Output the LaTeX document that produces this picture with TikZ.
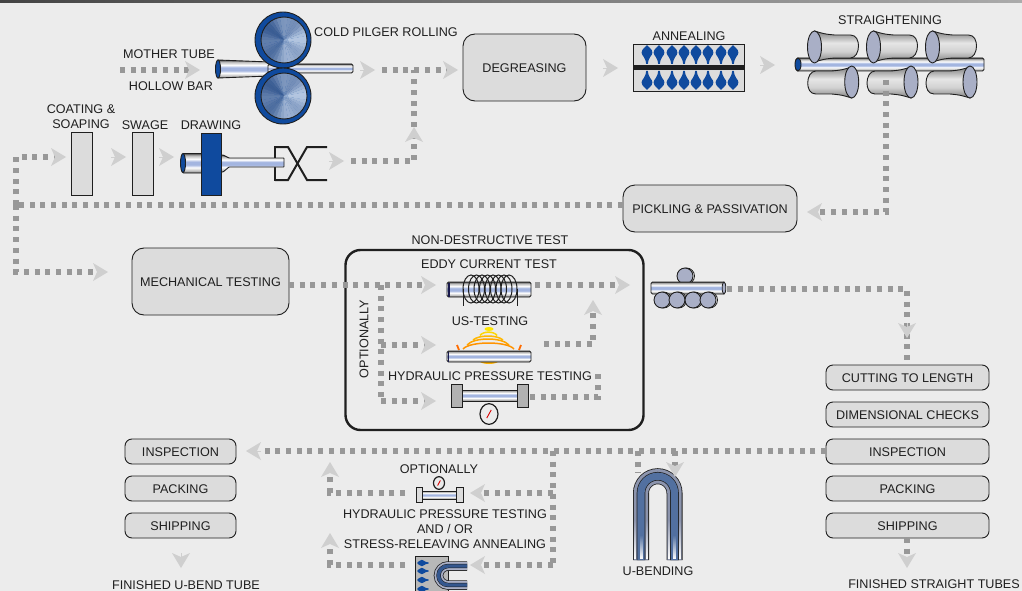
\documentclass[tikz,border=0pt]{standalone}
\usepackage{fontspec}
\setmainfont{Liberation Sans}
\usetikzlibrary{arrows.meta,fadings}
\definecolor{bgc}{HTML}{ECECEC}
\definecolor{boxc}{HTML}{DCDCDC}
\definecolor{ink}{HTML}{1F1F1F}
\definecolor{dotc}{HTML}{989898}
\definecolor{chevc}{HTML}{CFCFCF}
\definecolor{steelblue}{HTML}{0F4A9E}
\definecolor{discdark}{HTML}{34578F}
\definecolor{disclight}{HTML}{BFD0E8}
\definecolor{rollend}{HTML}{A9AFC6}
\definecolor{stripa}{HTML}{444444}
\definecolor{stripb}{HTML}{ABABAB}
\definecolor{tubeblue}{HTML}{A3B5E0}
\definecolor{bendgrey}{HTML}{8C94AD}
\pgfdeclareverticalshading{metal}{100bp}{
 color(0bp)=(black!70); color(25bp)=(black!70); color(30bp)=(black!28);
 color(39bp)=(white); color(46bp)=(tubeblue);
 color(54bp)=(tubeblue); color(61bp)=(white); color(70bp)=(black!28); color(75bp)=(black!70); color(100bp)=(black!70)}
\pgfdeclareverticalshading{rollmetal}{100bp}{
 color(0bp)=(black!50); color(25bp)=(black!50); color(42bp)=(black!18); color(56bp)=(black!10); color(75bp)=(black!50); color(100bp)=(black!50)}
\tikzset{
 lbl/.style={font=\fontsize{12.6}{14.7}\selectfont,text=ink,inner sep=0pt,align=center},
 procbox/.style={lbl,draw=ink,fill=boxc,line width=.9pt,rounded corners=12pt,text height=10pt,text depth=0pt},
 tagbox/.style={lbl,draw=ink,fill=boxc,line width=.9pt,rounded corners=7pt,minimum width=163pt,minimum height=25pt,text height=10pt,text depth=0pt},
 slab/.style={draw=ink,fill=boxc,line width=.9pt},
 dots/.style={draw=dotc,line width=5.2pt,dash pattern=on 5pt off 5.7pt},
 flow/.style={dots,-{Stealth[length=15pt,width=18pt,inset=4pt,color=chevc,line width=0pt]}},
 chev/.style={draw=chevc,line width=.1pt,-{Stealth[length=15pt,width=18pt,inset=4pt,color=chevc,line width=0pt]}},
 tube/.style={draw=ink,line width=.9pt,shading=metal,rounded corners=1.5pt},
 pics/tear/.style={code={\fill[steelblue] (0,-8) .. controls (1,-6.2) and (5.4,-4.2) .. (5.4,-.4) .. controls (5.4,2.8) and (1.4,3.8) .. (.9,11) -- (-.9,11) .. controls (-1.4,3.8) and (-5.4,2.8) .. (-5.4,-.4) .. controls (-5.4,-4.2) and (-1,-6.2) .. (0,-8) -- cycle;}},
 pics/roller/.style={code={
   \fill[steelblue,draw=ink,line width=.9pt] (0,0) circle[radius=28];
   \foreach \a in {0,10,...,350}{
     \pgfmathsetmacro{\p}{max(0,min(100,48+32*cos(\a+20)+14*cos(4*\a)))}
     \fill[disclight!\p!discdark] (1,0) -- ++(\a:23pt) arc[start angle=\a,delta angle=10.6,radius=23pt] -- cycle;}
   \draw[ink,line width=.9pt] (1,0) circle[radius=23];}},
 pics/gauge/.style={code={
   \draw[ink,fill=black!8,line width=1.2pt] (0,0) ellipse[x radius=#1,y radius=#1*1.15];
   \draw[red!85!black,line width=.9pt] (-.25*#1,.45*#1) -- (.25*#1,-.45*#1);}},
 pics/upperroll/.style={code={
   \path[draw=ink,line width=.9pt,shading=rollmetal] (0,-16) .. controls (10,-13) .. (20,-12) -- (36,-12) .. controls (42,-12) and (44,-6) .. (44,-1) .. controls (44,5) and (41,11) .. (36,11) -- (20,11) .. controls (10,12) .. (0,15) -- cycle;
   \draw[ink,fill=rollend,line width=.9pt] (0,0) ellipse[x radius=7,y radius=16];}},
 pics/stackroll/.style={code={
   \draw[ink,fill=white,line width=.8pt] (1.5,0) circle[radius=8];
   \draw[ink,fill=rollend,line width=.9pt] (0,0) circle[radius=8];}}
}
\begin{document}
\begin{tikzpicture}[x=1pt,y=-1pt]
\useasboundingbox (0,0) rectangle (1022,591);
\clip (0,0) rectangle (1022,591);
\fill[bgc] (0,0) rectangle (1022,591);
\shade[left color=stripa,right color=stripb] (0,0) rectangle (1022,2.5);

% process boxes
\node[procbox,minimum width=123pt,minimum height=67pt] (degreasing) at (524.5,67.5) {DEGREASING};
\node[procbox,minimum width=174pt,minimum height=47pt] (pickling) at (710,208.5) {PICKLING \& PASSIVATION};
\node[procbox,minimum width=157pt,minimum height=67pt] (mechanical) at (210.5,281.5) {MECHANICAL TESTING};
\node[draw=ink,line width=2.4pt,rounded corners=15pt,minimum width=298pt,minimum height=180pt,inner sep=0pt] (ndt) at (494.5,340) {};
\node[slab,minimum width=21pt,minimum height=63pt,inner sep=0pt] (coating) at (81.5,163.5) {};
\node[slab,minimum width=21pt,minimum height=63pt,inner sep=0pt] (swage) at (142.5,163.5) {};
\node[tagbox] (cutting) at (907.5,377.5) {CUTTING TO LENGTH};
\node[tagbox] (dimensional) at (907.5,414.5) {DIMENSIONAL CHECKS};
\node[tagbox] (inspectA) at (907.5,451.5) {INSPECTION};
\node[tagbox] (packingA) at (907.5,488.5) {PACKING};
\node[tagbox] (shippingA) at (907.5,525.5) {SHIPPING};
\node[tagbox,minimum width=111pt] (inspectB) at (180.5,451.5) {INSPECTION};
\node[tagbox,minimum width=111pt] (packingB) at (180.5,488.5) {PACKING};
\node[tagbox,minimum width=111pt] (shippingB) at (180.5,525.5) {SHIPPING};

% cold pilger rolling
\path[tube,rounded corners=0pt] (218,60) -- (270,62) -- (270,76) -- (218,78) -- cycle;
\path[tube] (268,64) -- (353,64) -- (353,73) -- (268,73) -- cycle;
\draw[ink,fill=steelblue,line width=.9pt] (218,69) ellipse[x radius=2.5,y radius=9];
\pic at (283,40) {roller};
\pic at (283,96) {roller};

% annealing furnace
\draw[ink,fill=boxc,line width=.9pt] (633.5,44.5) rectangle (744,91);
\fill[ink] (633.5,65) rectangle (744,70.5);
\foreach \x in {647,659,672,684,696,708,721,733}{
  \pic at (\x,53) {tear};
  \pic[yscale=-1] at (\x,82) {tear};
}

% straightening
\path[tube] (796,58) -- (984,58) -- (984,71) -- (796,71) -- cycle;
\draw[ink,fill=steelblue,line width=.9pt] (798,64.5) ellipse[x radius=3,y radius=6.5];
\foreach \x in {814.5,873.5,932.5}{\pic at (\x,47) {upperroll};}
\foreach \x in {851.7,911,970}{\pic[rotate=180] at (\x,82) {upperroll};}

% drawing
\draw[ink,line width=2pt] (275,147) -- (288,147) -- (307,180) -- (327,180);
\draw[ink,line width=2pt] (327,147) -- (307,147) -- (288,180) -- (275,180);
\draw[ink,line width=2pt] (275,146) -- (275,181);
\path[tube] (182,153.5) -- (203,153.5) -- (203,173) -- (182,173) -- cycle;
\draw[ink,fill=steelblue,line width=.9pt] (183,163) ellipse[x radius=2.5,y radius=9.5];
\path[tube,rounded corners=.5pt] (219,155) -- (223,155) -- (229,158) -- (284,158) -- (284,167) -- (229,167) -- (223,172) -- (219,172) -- cycle;
\draw[ink,fill=steelblue,line width=.9pt] (201,133) rectangle (221,195);

% eddy current
\path[tube] (447,282) -- (531,282) -- (531,297) -- (447,297) -- cycle;
\fill[ink!80!blue] (448,282.5) rectangle (449.5,296.5);
\foreach \x in {471,476.5,482,487.5,493,498.5,504,509}{
  \draw[ink,line width=1pt] (\x,289) ellipse[x radius=8,y radius=14];}
\draw[ink,line width=1pt] (463,289) -- (463,306);
\draw[ink,line width=1pt] (517,289) -- (517,306);

% us testing
\fill[yellow!90!orange] (489,329) ellipse[x radius=4.5,y radius=2];
\draw[line width=1.5pt,color=yellow!75!orange] (480,335.5) .. controls (483,331) and (494,331) .. (497,335.5);
\draw[line width=1.5pt,color=orange!55!yellow] (473,340) .. controls (479,334.7) and (497,334.7) .. (503,340);
\draw[line width=1.5pt,color=orange!70!yellow] (467,345) .. controls (474,337) and (502,337) .. (509,345);
\draw[line width=1.5pt,color=orange!85!yellow] (463,349) .. controls (470,341) and (507,341) .. (514,349);
\draw[line width=1.8pt,color=orange!85!red] (457,345) -- (459,350);
\draw[line width=1.8pt,color=orange!85!red] (521,345) -- (519,350);
\fill[orange!60!yellow] (479,361) .. controls (482,365) and (496,365) .. (499,361) -- cycle;
\path[tube] (447,351) -- (531,351) -- (531,362) -- (447,362) -- cycle;
\fill[ink!80!blue] (447.5,351.5) rectangle (449,361.5);

% hydraulic test
\path[tube,rounded corners=0pt] (461,390) rectangle (518,401);
\draw[ink,fill=black!30,line width=.9pt] (451,384) rectangle (462,407);
\draw[ink,fill=black!30,line width=.9pt] (517,384) rectangle (528,407);
\pic at (489,414) {gauge=9};

% stacked rolls
\pic at (685,276) {stackroll};
\path[tube] (651,282) -- (725,282) -- (725,294) -- (651,294) -- cycle;
\draw[ink,fill=rollend,line width=.8pt] (724,288) ellipse[x radius=1.8,y radius=6];
\foreach \x in {662,677,693,708}{\pic at (\x,300) {stackroll};}

% u-bend
\foreach \w/\c in {16/ink,14.4/bendgrey,8.6/ink,7.2/discdark!85!white}{
  \draw[line width=\w pt,color=\c] (641,560) -- (641,493) arc[start angle=180,end angle=0,radius=16.75pt] -- (674.5,560);}
\foreach \x in {641,674.5}{
  \fill[white,path fading=north] (\x-1.5,535) rectangle (\x+1.5,559);
  \fill[white,path fading=north] (\x-6.9,520) rectangle (\x-4.6,559);
  \fill[white,path fading=north] (\x+4.6,520) rectangle (\x+6.9,559);}

% small optional test
\path[tube,rounded corners=0pt] (421,491) rectangle (457,499);
\draw[ink,fill=boxc,line width=.9pt] (416,487) rectangle (422,502);
\draw[ink,fill=boxc,line width=.9pt] (456,487) rectangle (463,502);
\pic at (439,483) {gauge=5.5};

% small furnace
\draw[ink,fill=black!28,line width=.9pt] (415,556) rectangle (448,596);
\foreach \y in {563,571,580,589}{\pic[rotate=90,scale=.6] at (422,\y) {tear};}
\foreach \w/\c in {9.5/ink,8/rollend,4.4/ink,3.4/discdark}{
  \draw[line width=\w pt,color=\c] (467,566) -- (448,566) arc[start angle=90,end angle=270,radius=9.5pt] -- (467,585);}

% flow anchors
\coordinate (motherStart) at (120,70);
\coordinate (motherEnd) at (200,70);
\coordinate (pilgerOutA) at (360,70);
\coordinate (pilgerOutB) at (375,70);
\coordinate (joinStart) at (382,70);
\coordinate (joinEnd) at (458,70);
\coordinate (joinTurn) at (414,70);
\coordinate (drawOutA) at (329,161);
\coordinate (drawOutB) at (344,161);
\coordinate (drawDots) at (351,161);
\coordinate (drawTurn) at (414,161);
\coordinate (drawUp) at (414,127);
\coordinate (degOutA) at (603,68);
\coordinate (degOutB) at (618,68);
\coordinate (annOutA) at (760,65);
\coordinate (annOutB) at (775,65);
\coordinate (straightOut) at (886,80);
\coordinate (straightTurn) at (886,212);
\coordinate (pickIn) at (807,212);
\coordinate (pickOut) at (623,205);
\coordinate (leftTurn) at (16,205);
\coordinate (leftTop) at (16,157);
\coordinate (coatIn) at (66,157);
\coordinate (leftBottom) at (16,272);
\coordinate (mechIn) at (108,272);
\coordinate (coatOut) at (111,157);
\coordinate (swageIn) at (126,157);
\coordinate (swageOut) at (159,157);
\coordinate (swageEnd) at (174,157);
\coordinate (mechOut) at (289,285);
\coordinate (eddyIn) at (436,285);
\coordinate (optTop) at (381,285);
\coordinate (optMid) at (381,345);
\coordinate (optBot) at (381,401);
\coordinate (usIn) at (436,345);
\coordinate (hydIn) at (436,401);
\coordinate (eddyOut) at (535,285);
\coordinate (ndtOut) at (630,285);
\coordinate (usOut) at (544,344);
\coordinate (usTurn) at (593,344);
\coordinate (usUp) at (593,300);
\coordinate (hydOut) at (530,397);
\coordinate (hydTurn) at (598,397);
\coordinate (hydUp) at (598,372);
\coordinate (rollsOut) at (727,289);
\coordinate (rollsTurn) at (907,289);
\coordinate (rollsArrow) at (907,338);
\coordinate (rollsDown) at (907,340);
\coordinate (cutIn) at (907,365);
\coordinate (inspOut) at (826,451);
\coordinate (inspStop) at (262,451);
\coordinate (inspLeft) at (246,451);
\coordinate (branchTop) at (553,451);
\coordinate (branchA) at (553,493);
\coordinate (branchB) at (553,565);
\coordinate (optIn) at (470,493);
\coordinate (furnIn) at (470,565);
\coordinate (optOut) at (405,493);
\coordinate (optTurn) at (330,493);
\coordinate (optUp) at (330,462);
\coordinate (furnOut) at (405,565);
\coordinate (furnTurn) at (330,565);
\coordinate (furnUp) at (330,533);
\coordinate (uA) at (638,451);
\coordinate (uAend) at (638,473);
\coordinate (uB) at (675,451);
\coordinate (uBend) at (675,477);
\coordinate (finAa) at (907,538);
\coordinate (finAb) at (907,568);
\coordinate (finBa) at (181,553);
\coordinate (finBb) at (181,568);

% flows
\draw[flow] (motherStart) -- (motherEnd);
\draw[chev] (pilgerOutA) -- (pilgerOutB);
\draw[dots] (drawUp) -- (joinTurn);
\draw[flow] (joinStart) -- (joinEnd);
\draw[chev] (drawOutA) -- (drawOutB);
\draw[flow] (drawDots) -- (drawTurn) -- (drawUp);
\draw[chev] (degOutA) -- (degOutB);
\draw[chev] (annOutA) -- (annOutB);
\draw[flow] (straightOut) -- (straightTurn) -- (pickIn);
\draw[dots] (pickOut) -- (leftTurn);
\draw[flow] (leftTurn) -- (leftTop) -- (coatIn);
\draw[flow] (leftTurn) -- (leftBottom) -- (mechIn);
\draw[chev] (coatOut) -- (swageIn);
\draw[chev] (swageOut) -- (swageEnd);
\draw[flow] (mechOut) -- (eddyIn);
\draw[dots] (optTop) -- (optBot);
\draw[flow] (optMid) -- (usIn);
\draw[flow] (optBot) -- (hydIn);
\draw[flow] (eddyOut) -- (ndtOut);
\draw[flow] (usOut) -- (usTurn) -- (usUp);
\draw[dots] (hydOut) -- (hydTurn) -- (hydUp);
\draw[dots] (rollsOut) -- (rollsTurn) -- (cutIn);
\draw[chev] (907,323) -- (rollsArrow);
\draw[dots] (inspOut) -- (inspStop);
\draw[chev] (261,451) -- (inspLeft);
\draw[dots] (branchTop) -- (branchB);
\draw[flow] (branchA) -- (optIn);
\draw[flow] (branchB) -- (furnIn);
\draw[flow] (optOut) -- (optTurn) -- (optUp);
\draw[flow] (furnOut) -- (furnTurn) -- (furnUp);
\draw[dots] (uA) -- (uAend);
\draw[flow] (uB) -- (uBend);
\draw[flow] (finAa) -- (finAb);
\draw[chev] (finBa) -- (finBb);

% labels
\node[lbl] (tMother) at (169,54) {MOTHER TUBE};
\node[lbl] (tHollow) at (171,86) {HOLLOW BAR};
\node[lbl] (tPilger) at (386,32) {COLD PILGER ROLLING};
\node[lbl] (tAnneal) at (689,36) {ANNEALING};
\node[lbl] (tStraight) at (890,20) {STRAIGHTENING};
\node[lbl] (tCoating) at (81,117) {COATING \&\\SOAPING};
\node[lbl] (tSwage) at (145,125) {SWAGE};
\node[lbl] (tDrawing) at (211,125) {DRAWING};
\node[lbl] (tNDT) at (490,240) {NON-DESTRUCTIVE TEST};
\node[lbl] (tEddy) at (489,264) {EDDY CURRENT TEST};
\node[lbl] (tUS) at (490,321) {US-TESTING};
\node[lbl] (tHyd) at (490,376) {HYDRAULIC PRESSURE TESTING};
\node[lbl,rotate=90] (tOptA) at (364,339) {OPTIONALLY};
\node[lbl] (tOptB) at (439,469) {OPTIONALLY};
\node[lbl] (tHydB) at (445,529) {HYDRAULIC PRESSURE TESTING\\AND / OR\\STRESS-RELEAVING ANNEALING};
\node[lbl] (tUbend) at (658,571) {U-BENDING};
\node[lbl] (tFinA) at (934,584) {FINISHED STRAIGHT TUBES};
\node[lbl] (tFinB) at (186,585) {FINISHED U-BEND TUBE};
\end{tikzpicture}
\end{document}
